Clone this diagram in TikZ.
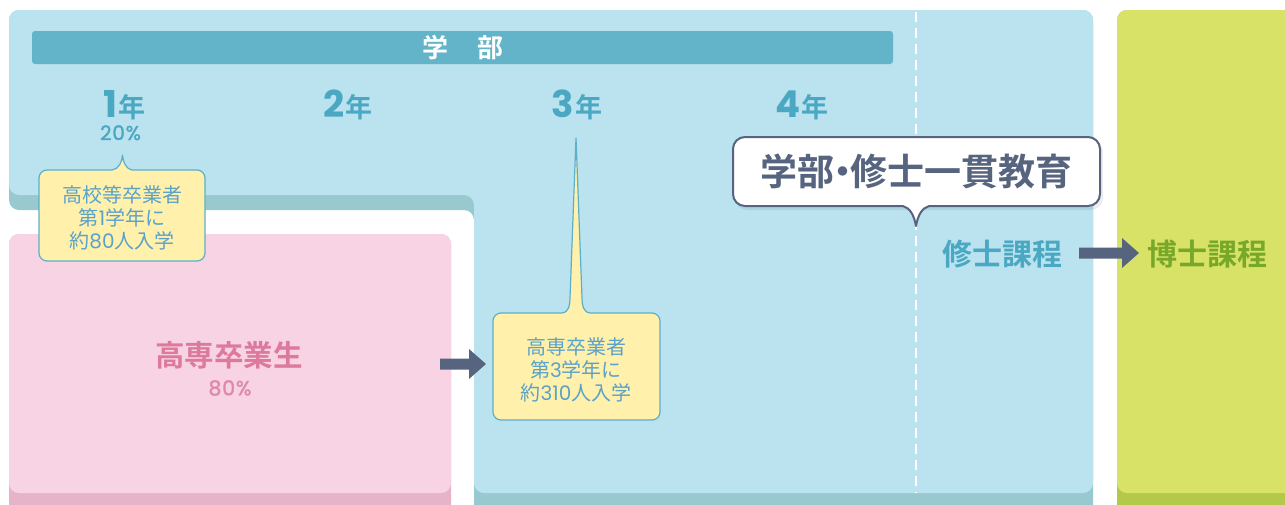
\documentclass[tikz,border=0pt]{standalone}
\usepackage{fontspec}
\setmainfont{Noto Sans CJK JP}[BoldFont={Noto Sans CJK JP Bold}]
\newfontfamily\numfont{Poppins}
\newfontfamily\numfontm{Poppins}[FakeBold=1.6, LetterSpace=4]
\newcommand{\nf}[1]{{\numfont #1}}
\newcommand{\nfm}[1]{{\numfontm #1}}
\definecolor{lblue}{HTML}{BBE2EF}
\definecolor{tealsh}{HTML}{97C9CE}
\definecolor{band}{HTML}{63B3C9}
\definecolor{pinkc}{HTML}{F8D3E4}
\definecolor{pinksh}{HTML}{E6B3C8}
\definecolor{greenc}{HTML}{D8E266}
\definecolor{greensh}{HTML}{B4C84A}
\definecolor{yeartxt}{HTML}{4AA8C3}
\definecolor{calltxt}{HTML}{5AA2C8}
\definecolor{callfill}{HTML}{FFF0AC}
\definecolor{callline}{HTML}{5BB0C8}
\definecolor{slate}{HTML}{56647F}
\definecolor{pinktxt}{HTML}{DD7A9B}
\definecolor{pinktxtb}{HTML}{DD8AA6}
\definecolor{greentxt}{HTML}{78A82A}
\begin{document}
\begin{tikzpicture}[x=1pt,y=-1pt,
  txt/.style={inner sep=0pt, outer sep=0pt},
  yearlbl/.style={txt, text=yeartxt, font=\bfseries, anchor=base, text depth=0pt},
  calloutbox/.style={fill=callfill, draw=callline, line width=1.2pt, line join=round},
  callouttext/.style={txt, text=calltxt, align=center, font=\fontsize{20}{23}\selectfont},
  blockarrow/.style={fill=slate},
  bigtitle/.style={txt, text=yeartxt, font=\fontsize{30}{30}\selectfont\bfseries}]
\useasboundingbox (0,0) rectangle (1285,504);
\clip (0,0) rectangle (1285,504);

% green column
\fill[greensh, rounded corners=10pt] (1117,10) rectangle (1320,530);
\fill[greenc, rounded corners=10pt] (1117,10) rectangle (1320,493);

% blue L shape with shadow
\fill[tealsh, rounded corners=10pt] (9,10) -- (1093,10) -- (1093,530) -- (474,530) -- (474,210) -- (9,210) -- cycle;
\fill[lblue, rounded corners=10pt] (9,10) -- (1093,10) -- (1093,493) -- (474,493) -- (474,195) -- (9,195) -- cycle;

% pink box
\fill[pinksh, rounded corners=10pt] (9,234) rectangle (451,530);
\fill[pinkc, rounded corners=10pt] (9,234) rectangle (451,493);

% band
\fill[band, rounded corners=3pt] (32,31) rectangle (893,64);
\node[txt, text=white, font=\fontsize{26}{26}\selectfont\bfseries] (gakubu) at (462.75,48) {学\hspace{28.5pt}部};

% year labels
\node[yearlbl] (y1) at (124.5,117) {\fontsize{37}{37}\selectfont\nf{1}\hspace{2pt}\fontsize{27}{27}\selectfont 年};
\node[yearlbl] (y2) at (348,117) {\fontsize{37}{37}\selectfont\nf{2}\hspace{1pt}\fontsize{27}{27}\selectfont 年};
\node[yearlbl] (y3) at (577,117) {\fontsize{37}{37}\selectfont\nf{3}\hspace{1pt}\fontsize{27}{27}\selectfont 年};
\node[yearlbl] (y4) at (802,117) {\fontsize{37}{37}\selectfont\nf{4}\hspace{1pt}\fontsize{27}{27}\selectfont 年};
\node[yearlbl, font=\fontsize{20}{20}\selectfont, text height=14pt] (p20) at (120.5,140) {\nfm{20\%}};

% dashed divider
\coordinate (dtop) at (916,12);
\coordinate (dbot) at (916,493);
\draw[white, line width=2pt, dash pattern=on 10pt off 6pt] (dtop) -- (dbot);

% pink texts
\node[txt, text=pinktxt, font=\fontsize{29.5}{29.5}\selectfont\bfseries] (kosen) at (229,355) {高専卒業生};
\node[txt, text=pinktxtb, font=\fontsize{20.5}{20.5}\selectfont] (p80) at (230,388) {\nfm{80\%}};

% arrow 1
\fill[blockarrow] (440,358.5) -- (469,358.5) -- (469,349) -- (486,364) -- (469,379) -- (469,369.5) -- (440,369.5) -- cycle;

% callout 1
\draw[calloutbox] (112,170) [rounded corners=8pt] -- (39,170) -- (39,261) -- (205,261) -- (205,170) -- (190,170) [sharp corners] -- (132,170) .. controls (126,169) and (123,162) .. (122.5,155) .. controls (122,162) and (119,169) .. (112,170) -- cycle;
\node[callouttext] (c1) at (122,218) {高校等卒業者\\第\nf{1}学年に\\約\nf{80}人入学};

% callout 2
\draw[calloutbox] (562,313) [rounded corners=8pt] -- (493,313) -- (493,420) -- (660,420) -- (660,313) -- (640,313) [sharp corners] -- (590,313) .. controls (583,312) and (582,305) .. (582,298) -- (576,138) -- (570,298) .. controls (570,305) and (569,312) .. (562,313) -- cycle;
\node[callouttext] (c2) at (576,370) {高専卒業者\\第\nf{3}学年に\\約\nf{310}人入学};

% callout 3 (white)
\fill[black, opacity=0.07, rounded corners=12pt] (735,140) rectangle (1103,210);
\draw[slate, line width=2pt, fill=white, line join=round] (903,206) [rounded corners=12pt] -- (733,206) -- (733,137) -- (1100,137) -- (1100,206) -- (960,206) [sharp corners] -- (929,206) .. controls (922,208) and (918,215) .. (916,226) .. controls (914,215) and (910,208) .. (903,206) -- cycle;
\node[txt, text=slate, font=\fontsize{37}{37}\selectfont\bfseries] (ikkan) at (916.5,171.5) {学部\hspace{-0.29em}・\hspace{-0.29em}修士一貫教育};

% master / doctor
\node[bigtitle] (shushi) at (1002,254) {修士課程};
\node[bigtitle, text=greentxt] (hakushi) at (1207.5,254) {博士課程};
\fill[blockarrow] (1079,247.5) -- (1122,247.5) -- (1122,238) -- (1139,253) -- (1122,268) -- (1122,258.5) -- (1079,258.5) -- cycle;
\end{tikzpicture}
\end{document}
